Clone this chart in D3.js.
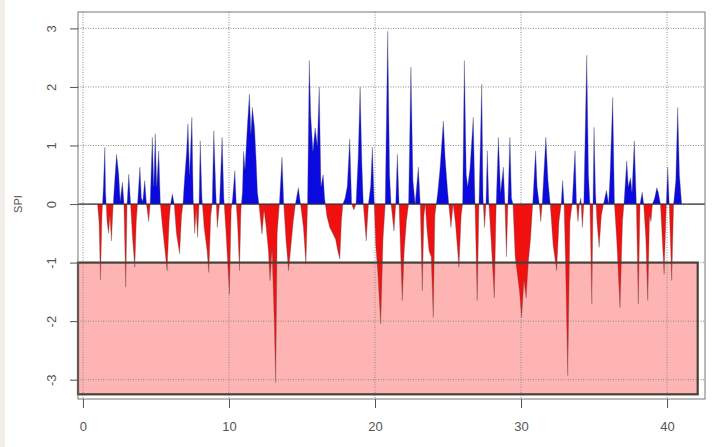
<!DOCTYPE html>
<html>
<head>
<meta charset="utf-8">
<script src="https://cdn.jsdelivr.net/npm/d3@7"></script>
<style>
  body { margin: 0; background: #fff; }
  svg { display: block; }
  .tick text { font-family: "Liberation Sans", Arial, sans-serif; fill: #555; }
</style>
</head>
<body>
<div id="chart"></div>
<script>
// SPI series: [time, spi]
var spiSeries = [
  [1.0, 0], [1.1, -0.3], [1.2, -1.3], [1.3, -0.2], [1.4, 0.3], [1.5, 0.97], [1.55, 0.2], [1.65, -0.3],
  [1.75, -0.5], [1.85, -0.2], [1.95, -0.63], [2.05, -0.1], [2.15, 0.3], [2.3, 0.85], [2.45, 0.5],
  [2.55, 0.05], [2.7, 0.37], [2.8, 0.05], [2.93, -1.42], [3.02, 0.0], [3.14, 0.51], [3.25, 0.05],
  [3.4, -0.6], [3.55, -1.08], [3.65, -0.3], [3.75, 0.05], [3.9, 0.63], [4.0, 0.1], [4.1, 0.05],
  [4.23, 0.4], [4.35, 0.0], [4.5, -0.3], [4.6, 0.0], [4.75, 1.14], [4.85, 0.3], [4.95, 1.2], [5.05, 0.3],
  [5.19, 0.91], [5.3, 0.0], [5.45, -0.4], [5.6, -0.75], [5.76, -1.14], [5.9, -0.3], [6.0, 0.0],
  [6.12, 0.17], [6.25, 0.0], [6.4, -0.5], [6.62, -0.85], [6.75, -0.2], [6.85, 0.0], [6.95, 0.4],
  [7.1, 0.9], [7.19, 1.37], [7.3, 0.5], [7.46, 1.48], [7.55, 0.1], [7.65, -0.5], [7.75, -0.1],
  [7.85, -0.57], [7.95, 0.0], [8.03, 1.08], [8.15, 0.1], [8.3, -0.4], [8.5, -0.8], [8.62, -1.17],
  [8.75, -0.2], [8.85, 0.0], [8.96, 1.25], [9.1, 0.2], [9.2, -0.4], [9.35, 0.0], [9.53, 1.14],
  [9.65, 0.1], [9.8, -0.5], [10.03, -1.54], [10.15, -0.1], [10.25, 0.1], [10.4, 0.57], [10.5, 0.0],
  [10.6, -0.4], [10.72, -1.14], [10.82, -0.1], [10.92, 0.2], [11.0, 0.9], [11.1, 0.6], [11.25, 1.3],
  [11.4, 1.88], [11.5, 1.2], [11.6, 1.65], [11.75, 1.3], [11.85, 0.8], [11.95, 0.2], [12.05, 0.0],
  [12.26, -0.51], [12.4, -0.1], [12.55, -0.4], [12.7, -0.8], [12.81, -1.31], [12.95, -0.8],
  [13.1, -1.97], [13.2, -3.05], [13.3, -0.5], [13.45, 0.0], [13.63, 0.8], [13.75, 0.0], [13.9, -0.6],
  [14.08, -1.14], [14.25, -0.7], [14.4, -0.3], [14.55, 0.0], [14.75, 0.28], [14.9, 0.0], [15.1, -0.4],
  [15.27, -1.03], [15.38, 0.0], [15.5, 2.45], [15.6, 1.5], [15.75, 0.9], [15.9, 1.3], [16.05, 1.0],
  [16.18, 2.0], [16.3, 0.3], [16.45, 0.5], [16.55, 0.1], [16.7, -0.2], [16.9, -0.4], [17.1, -0.5],
  [17.3, -0.6], [17.45, -0.8], [17.59, -0.94], [17.7, -0.3], [17.8, 0.0], [17.95, 0.1], [18.1, 0.3],
  [18.27, 1.11], [18.4, 0.0], [18.55, -0.1], [18.7, 0.0], [18.85, 0.8], [18.98, 2.0], [19.1, 0.7],
  [19.2, 0.0], [19.4, -0.63], [19.55, 0.0], [19.7, 0.3], [19.82, 0.97], [19.95, 0.0], [20.05, -0.7],
  [20.2, -1.2], [20.39, -2.05], [20.55, -0.6], [20.7, 0.0], [20.87, 2.95], [21.0, 0.5], [21.1, 0.0],
  [21.3, -0.46], [21.42, 0.0], [21.53, 0.85], [21.65, 0.0], [21.75, -0.8], [21.87, -1.65], [22.0, -0.8],
  [22.15, -0.3], [22.3, 0.0], [22.46, 2.34], [22.6, 0.4], [22.75, 0.0], [22.97, 0.63], [23.1, 0.0],
  [23.24, -1.48], [23.35, -0.2], [23.45, 0.0], [23.55, -0.4], [23.7, -0.8], [23.85, -0.9],
  [23.99, -1.94], [24.1, -0.2], [24.2, 0.0], [24.3, 0.2], [24.45, 0.6], [24.68, 1.42], [24.8, 0.8],
  [24.95, 0.3], [25.05, 0.0], [25.2, -0.4], [25.35, 0.0], [25.5, -0.3], [25.75, -1.08], [25.9, -0.2],
  [26.0, 0.0], [26.12, 2.45], [26.25, 0.5], [26.35, 0.3], [26.5, 0.6], [26.73, 1.48], [26.85, 0.0],
  [27.0, -1.65], [27.12, 0.0], [27.31, 2.05], [27.4, 0.1], [27.5, -0.4], [27.6, 0.0], [27.69, 0.91],
  [27.8, 0.0], [27.95, -0.6], [28.17, -1.6], [28.3, 0.0], [28.45, 1.14], [28.6, 0.2], [28.79, 0.63],
  [28.9, 0.0], [29.0, -0.9], [29.1, 0.0], [29.24, 1.14], [29.35, 0.1], [29.45, 0.0], [29.6, -0.9],
  [29.75, -1.2], [29.9, -1.5], [30.04, -1.94], [30.2, -1.3], [30.35, -1.6], [30.5, -1.0], [30.65, -0.6],
  [30.8, 0.0], [31.0, 0.91], [31.1, 0.3], [31.25, 0.0], [31.35, -0.3], [31.45, 0.0], [31.7, 1.14],
  [31.85, 0.4], [32.0, 0.0], [32.2, -0.7], [32.44, -1.14], [32.6, -0.3], [32.75, 0.0], [32.85, 0.4],
  [32.95, 0.0], [33.05, -1.0], [33.2, -2.93], [33.35, -0.3], [33.5, 0.0], [33.7, 0.91], [33.8, 0.0],
  [33.9, -0.3], [34.0, 0.0], [34.1, 0.1], [34.2, -0.4], [34.3, 0.0], [34.5, 2.54], [34.62, 0.5],
  [34.72, 0.0], [34.85, -1.71], [34.93, 0.0], [35.0, 1.31], [35.1, 0.2], [35.2, -0.3], [35.35, -0.74],
  [35.5, -0.2], [35.65, 0.0], [35.85, 0.23], [36.0, 0.0], [36.1, 0.5], [36.28, 1.82], [36.4, 0.0],
  [36.55, -0.6], [36.78, -1.77], [36.95, -0.3], [37.05, 0.0], [37.24, 0.74], [37.35, 0.3], [37.5, 0.45],
  [37.6, 0.2], [37.76, 1.08], [37.9, 0.0], [38.03, -1.71], [38.15, 0.0], [38.3, 0.2], [38.4, 0.0],
  [38.55, -0.6], [38.68, -1.65], [38.8, -0.2], [38.9, -0.3], [39.0, 0.0], [39.15, 0.1], [39.3, 0.28],
  [39.4, 0.2], [39.55, 0.0], [39.8, -1.2], [39.95, 0.0], [40.05, 0.63], [40.15, 0.0], [40.32, -1.31],
  [40.45, 0.0], [40.6, 0.4], [40.73, 1.65], [40.85, 0.5], [41.0, 0.0]
];

var xDomain = [-0.34, 42.6];
var yDomain = [-3.33, 3.28];
var xTicks = [0, 10, 20, 30, 40];
var yTicks = [-3, -2, -1, 0, 1, 2, 3];
// drought band below SPI = -1
var droughtBand = { spiTop: -1, spiBottom: -3.25, tStart: -0.34, tEnd: 42.1 };

var margin = { top: 12, right: 8, bottom: 48, left: 78 },
    W = 713, H = 447,
    width = W - margin.left - margin.right,
    height = H - margin.top - margin.bottom;

// R style labels: plain hyphen, no decimals
var plain = function (d) { return String(d); };

var svg = d3.select("#chart").append("svg")
    .attr("width", W)
    .attr("height", H);

// light strip on the left edge of the picture
svg.append("rect")
    .attr("x", 0).attr("y", 0)
    .attr("width", 5).attr("height", H)
    .attr("fill", "#f1eee9");

var g = svg.append("g")
    .attr("transform", "translate(" + margin.left + "," + margin.top + ")");

var x = d3.scaleLinear().domain(xDomain).range([0, width]);
var y = d3.scaleLinear().domain(yDomain).range([height, 0]);

// pink drought band
g.append("rect")
    .attr("x", x(droughtBand.tStart))
    .attr("y", y(droughtBand.spiTop))
    .attr("width", x(droughtBand.tEnd) - x(droughtBand.tStart))
    .attr("height", y(droughtBand.spiBottom) - y(droughtBand.spiTop))
    .attr("fill", "#ffb4b4");

// dotted gridlines
g.append("g")
    .selectAll("line")
    .data(yTicks)
    .enter().append("line")
    .attr("x1", 0).attr("x2", width)
    .attr("y1", function (d) { return y(d); })
    .attr("y2", function (d) { return y(d); })
    .attr("stroke", "#8a8a8a")
    .attr("stroke-width", 1)
    .attr("stroke-dasharray", "1,1.5");

g.append("g")
    .selectAll("line")
    .data(xTicks)
    .enter().append("line")
    .attr("y1", 0).attr("y2", height)
    .attr("x1", function (d) { return x(d); })
    .attr("x2", function (d) { return x(d); })
    .attr("stroke", "#8a8a8a")
    .attr("stroke-width", 1)
    .attr("stroke-dasharray", "1,1.5");

// clip above and below zero
var defs = svg.append("defs");
defs.append("clipPath").attr("id", "clipPos")
    .append("rect")
    .attr("x", 0).attr("y", 0)
    .attr("width", width).attr("height", y(0));
defs.append("clipPath").attr("id", "clipNeg")
    .append("rect")
    .attr("x", 0).attr("y", y(0))
    .attr("width", width).attr("height", height - y(0));

var area = d3.area()
    .x(function (d) { return x(d[0]); })
    .y0(y(0))
    .y1(function (d) { return y(d[1]); });

var line = d3.line()
    .x(function (d) { return x(d[0]); })
    .y(function (d) { return y(d[1]); });

g.append("path")
    .datum(spiSeries)
    .attr("clip-path", "url(#clipPos)")
    .attr("fill", "#0a0ae0")
    .attr("d", area);

g.append("path")
    .datum(spiSeries)
    .attr("clip-path", "url(#clipNeg)")
    .attr("fill", "#f01010")
    .attr("d", area);

g.append("path")
    .datum(spiSeries)
    .attr("fill", "none")
    .attr("stroke", "#555")
    .attr("stroke-opacity", 0.5)
    .attr("stroke-width", 0.7)
    .attr("d", line);

// zero line
g.append("line")
    .attr("x1", 0).attr("x2", width)
    .attr("y1", y(0)).attr("y2", y(0))
    .attr("stroke", "#333")
    .attr("stroke-width", 1.2);

// border of the drought band
g.append("rect")
    .attr("x", x(droughtBand.tStart))
    .attr("y", y(droughtBand.spiTop))
    .attr("width", x(droughtBand.tEnd) - x(droughtBand.tStart))
    .attr("height", y(droughtBand.spiBottom) - y(droughtBand.spiTop))
    .attr("fill", "none")
    .attr("stroke", "#4a4038")
    .attr("stroke-width", 2.2);

// plot box
g.append("rect")
    .attr("x", 0).attr("y", 0)
    .attr("width", width).attr("height", height)
    .attr("fill", "none")
    .attr("stroke", "#777")
    .attr("stroke-width", 1);

// axes
var xAxis = g.append("g")
    .attr("transform", "translate(0," + height + ")")
    .call(d3.axisBottom(x).tickValues(xTicks).tickFormat(plain).tickSize(9).tickPadding(14));
xAxis.select(".domain").remove();
xAxis.selectAll(".tick line").attr("stroke", "#555");
xAxis.selectAll(".tick text").attr("font-size", 13);

var yAxis = g.append("g")
    .call(d3.axisLeft(y).tickValues(yTicks).tickFormat(plain).tickSize(8).tickPadding(0));
yAxis.select(".domain").remove();
yAxis.selectAll(".tick line").attr("stroke", "#555");
yAxis.selectAll(".tick text")
    .attr("font-size", 13)
    .attr("text-anchor", "middle")
    .attr("x", 0).attr("dy", 0)
    .attr("transform", "translate(-22,0) rotate(-90)");

g.append("text")
    .attr("text-anchor", "middle")
    .attr("transform", "translate(" + (22 - margin.left) + "," + y(0) + ") rotate(-90)")
    .attr("font-family", "Liberation Sans, Arial, sans-serif")
    .attr("font-size", 11)
    .attr("fill", "#555")
    .text("SPI");
</script>
</body>
</html>
